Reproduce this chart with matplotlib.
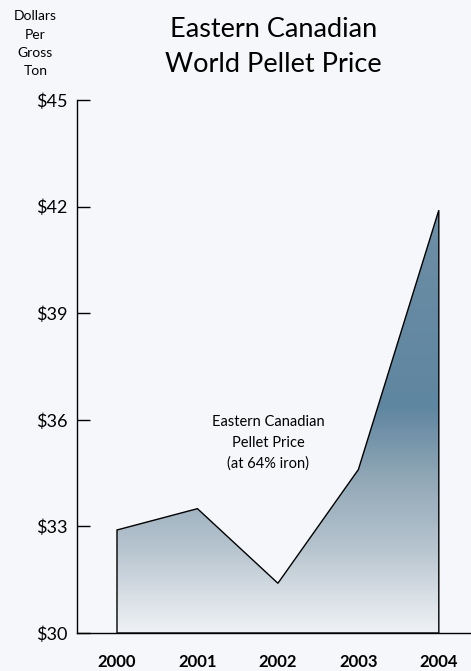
import numpy as np
import matplotlib
matplotlib.use("Agg")
import matplotlib.pyplot as plt
from matplotlib.colors import LinearSegmentedColormap
from matplotlib.patches import Polygon

plt.rcParams['font.family'] = ['Lato', 'DejaVu Sans']

# data
years = [2000, 2001, 2002, 2003, 2004]
price = [32.9, 33.5, 31.4, 34.6, 41.9]
y_ticks = [30, 33, 36, 39, 42, 45]
y_labels = ['$30', '$33', '$36', '$39', '$42', '$45']

bg = '#f5f7fa'
fig = plt.figure(figsize=(4.71, 6.71), dpi=100, facecolor=bg)
ax = fig.add_axes([0.1635, 0.0566, 0.8365, 0.7943], facecolor=bg)

x0, x1 = 1999.503, 2004.4
ax.set_xlim(x0, x1)
ax.set_ylim(30, 45)

# gradient fill clipped to the area under the line
stops = [(0.0, '#eef1f4'), (0.067, '#d8dfe5'), (0.161, '#b5c3ce'),
         (0.287, '#92a8b7'), (0.424, '#5f86a0'), (0.7, '#6a8ca5'),
         (1.0, '#7595ab')]
cmap = LinearSegmentedColormap.from_list('pellet', stops)
grad = np.linspace(0, 1, 400).reshape(-1, 1)
img = ax.imshow(grad, cmap=cmap, origin='lower', aspect='auto',
                extent=[x0, x1, 30, 45], zorder=1)
verts = [(years[0], 30)] + list(zip(years, price)) + [(years[-1], 30)]
poly = Polygon(verts, closed=True, facecolor='none', edgecolor='black', lw=1.0, zorder=2)
ax.add_patch(poly)
img.set_clip_path(poly)

for s in ['top', 'right']:
    ax.spines[s].set_visible(False)
ax.spines['left'].set_linewidth(1.0)
ax.spines['bottom'].set_linewidth(1.0)

ax.set_yticks(y_ticks)
ax.set_yticklabels(y_labels, fontsize=13)
ax.tick_params(axis='y', direction='in', length=9, width=1, pad=7)
ax.set_xticks(years)
ax.set_xticklabels([str(y) for y in years], fontsize=12, fontweight='bold')
ax.tick_params(axis='x', length=0, pad=15)

fig.text(0.58, 0.930, 'Eastern Canadian\nWorld Pellet Price', ha='center', va='center',
         fontsize=19.5, linespacing=1.52)
fig.text(0.075, 0.935, 'Dollars\nPer\nGross\nTon', ha='center', va='center',
         fontsize=10, linespacing=1.62)
ax.text(2001.88, 35.35, 'Eastern Canadian\nPellet Price\n(at 64% iron)', ha='center',
        va='center', fontsize=10.5, linespacing=1.62, zorder=3)

fig.savefig('out.png', dpi=100, facecolor=bg)
